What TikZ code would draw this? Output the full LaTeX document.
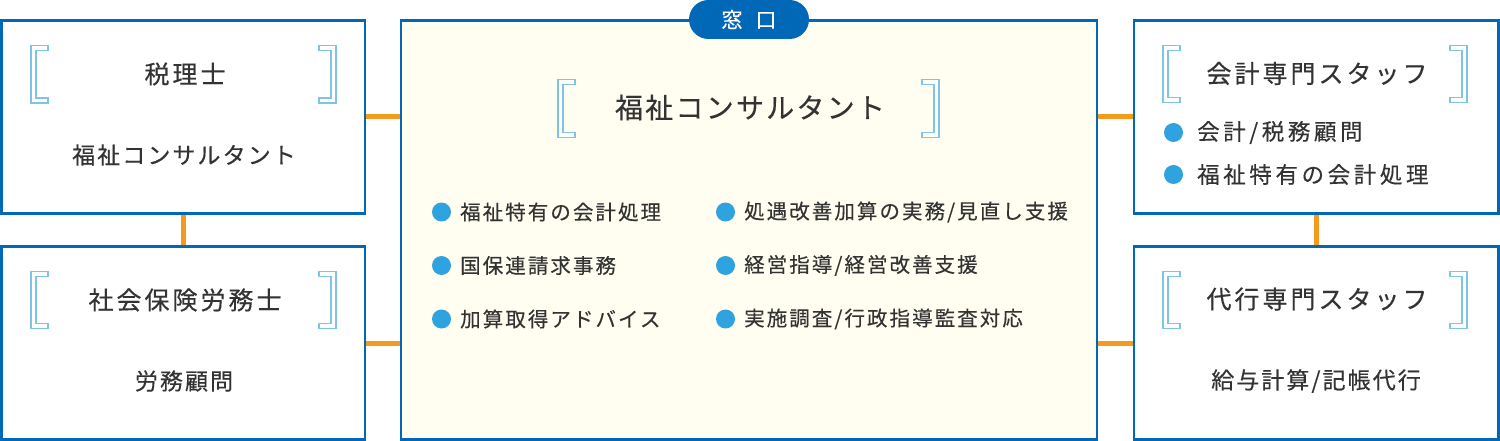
\documentclass[tikz,border=0pt]{standalone}
\usepackage{fontspec}
\newfontfamily\jptitle[LetterSpace=12,FakeBold=0.3]{Noto Sans CJK JP}
\newfontfamily\jpctitle[LetterSpace=8,FakeBold=0.3]{Noto Sans CJK JP}
\newfontfamily\jpsub[LetterSpace=9,FakeBold=0.3]{Noto Sans CJK JP}
\newfontfamily\jpitem[LetterSpace=16,FakeBold=0.3]{Noto Sans CJK JP}
\newfontfamily\jpsmall[LetterSpace=10,FakeBold=0.3]{Noto Sans CJK JP}
\newfontfamily\jppill[LetterSpace=62,FakeBold=0.3]{Noto Sans CJK JP}
\definecolor{boxblue}{HTML}{0068B7}
\definecolor{brkblue}{HTML}{7DC4E6}
\definecolor{dotblue}{HTML}{2EA3DF}
\definecolor{conorange}{HTML}{F39A1F}
\definecolor{cream}{HTML}{FFFEF0}
\definecolor{txt}{HTML}{333333}
\pgfdeclarelayer{bg}
\pgfsetlayers{bg,main}
\begin{document}
\begin{tikzpicture}[x=1pt,y=-1pt,
  box/.style={draw=boxblue, line width=2.5pt, fill=white, inner sep=0pt, outer sep=0pt},
  cbox/.style={box, fill=cream},
  conn/.style={draw=conorange, line width=5pt},
  brk/.style={draw=brkblue, line width=1.3pt, fill=white},
  title/.style={text=txt, inner sep=0pt, font=\jptitle\fontsize{25}{29}\selectfont},
  ctitle/.style={text=txt, inner sep=0pt, font=\jpctitle\fontsize{28}{32}\selectfont},
  sub/.style={text=txt, inner sep=0pt, font=\jpsub\fontsize{23}{27}\selectfont},
  item/.style={text=txt, inner sep=0pt, anchor=west, font=\jpitem\fontsize{22.5}{26}\selectfont},
  sitem/.style={text=txt, inner sep=0pt, anchor=west, font=\jpsmall\fontsize{20.5}{24}\selectfont},
  dot/.style={circle, fill=dotblue, minimum size=19pt, inner sep=0pt},
  pill/.style={fill=boxblue, text=white, rounded corners=19.5pt, minimum width=120pt, minimum height=39pt, inner sep=0pt, font=\jppill\fontsize{21}{24}\selectfont},
  lbr/.pic={\path[brk] (0,-28.75) -- (17,-28.75) -- (17,-23.75) -- (5,-23.75) -- (5,23.75) -- (17,23.75) -- (17,28.75) -- (0,28.75) -- cycle;},
  rbr/.pic={\path[brk] (0,-28.75) -- (-17,-28.75) -- (-17,-23.75) -- (-5,-23.75) -- (-5,23.75) -- (-17,23.75) -- (-17,28.75) -- (0,28.75) -- cycle;}
]
\useasboundingbox (0,0) rectangle (1500,441);

% boxes
\node[box, minimum width=363.5pt, minimum height=193pt] (zei) at (183.25,117) {};
\node[box, minimum width=363.5pt, minimum height=193pt] (sha) at (183.25,343) {};
\node[cbox, minimum width=696pt, minimum height=419pt] (fuku) at (749,230) {};
\node[box, minimum width=364.5pt, minimum height=193pt] (kai) at (1316.25,117) {};
\node[box, minimum width=364.5pt, minimum height=193pt] (dai) at (1316.25,343) {};

% connectors
\begin{pgfonlayer}{bg}
\draw[conn] (zei.east) -- (zei.east -| fuku.west);
\draw[conn] (sha.east) -- (sha.east -| fuku.west);
\draw[conn] (kai.west) -- (kai.west -| fuku.east);
\draw[conn] (dai.west) -- (dai.west -| fuku.east);
\draw[conn] (zei.south) -- (sha.north);
\draw[conn] (kai.south) -- (dai.north);
\end{pgfonlayer}

% pill
\node[pill] (mado) at (749,19.5) {窓口};

% brackets
\pic at (31,74.3) {lbr};
\pic at (336,74.3) {rbr};
\pic at (31,300) {lbr};
\pic at (336,300) {rbr};
\pic at (558,108.5) {lbr};
\pic at (939,108.5) {rbr};
\pic at (1163,74) {lbr};
\pic at (1467,74) {rbr};
\pic at (1163,300) {lbr};
\pic at (1467,300) {rbr};

% left top
\node[title] (zeit) at (185,74) {税理士};
\node[sub] (zeis) at (184,155) {福祉コンサルタント};
% left bottom
\node[title] (shat) at (185,300) {社会保険労務士};
\node[sub] (shas) at (184,381) {労務顧問};
% center
\node[ctitle] (fukut) at (750,107.5) {福祉コンサルタント};
\node[dot] (d1) at (441.5,212) {};
\node[sitem] (i1) at (460,212) {福祉特有の会計処理};
\node[dot] (d2) at (441.5,265.5) {};
\node[sitem] (i2) at (460,265.5) {国保連請求事務};
\node[dot] (d3) at (441.5,319) {};
\node[sitem] (i3) at (460,319) {加算取得アドバイス};
\node[dot] (d4) at (725.5,212) {};
\node[sitem] (i4) at (744,212) {処遇改善加算の実務/見直し支援};
\node[dot] (d5) at (725.5,265.5) {};
\node[sitem] (i5) at (744,265.5) {経営指導/経営改善支援};
\node[dot] (d6) at (725.5,319) {};
\node[sitem] (i6) at (744,319) {実施調査/行政指導監査対応};
% right top
\node[title] (kait) at (1317,73.5) {会計専門スタッフ};
\node[dot] (r1) at (1173.5,132.5) {};
\node[item] (ri1) at (1197,132.5) {会計/税務顧問};
\node[dot] (r2) at (1173.5,174.5) {};
\node[item] (ri2) at (1197,174.5) {福祉特有の会計処理};
% right bottom
\node[title] (dait) at (1317,299) {代行専門スタッフ};
\node[sub] (dais) at (1316,381) {給与計算/記帳代行};
\end{tikzpicture}
\end{document}
